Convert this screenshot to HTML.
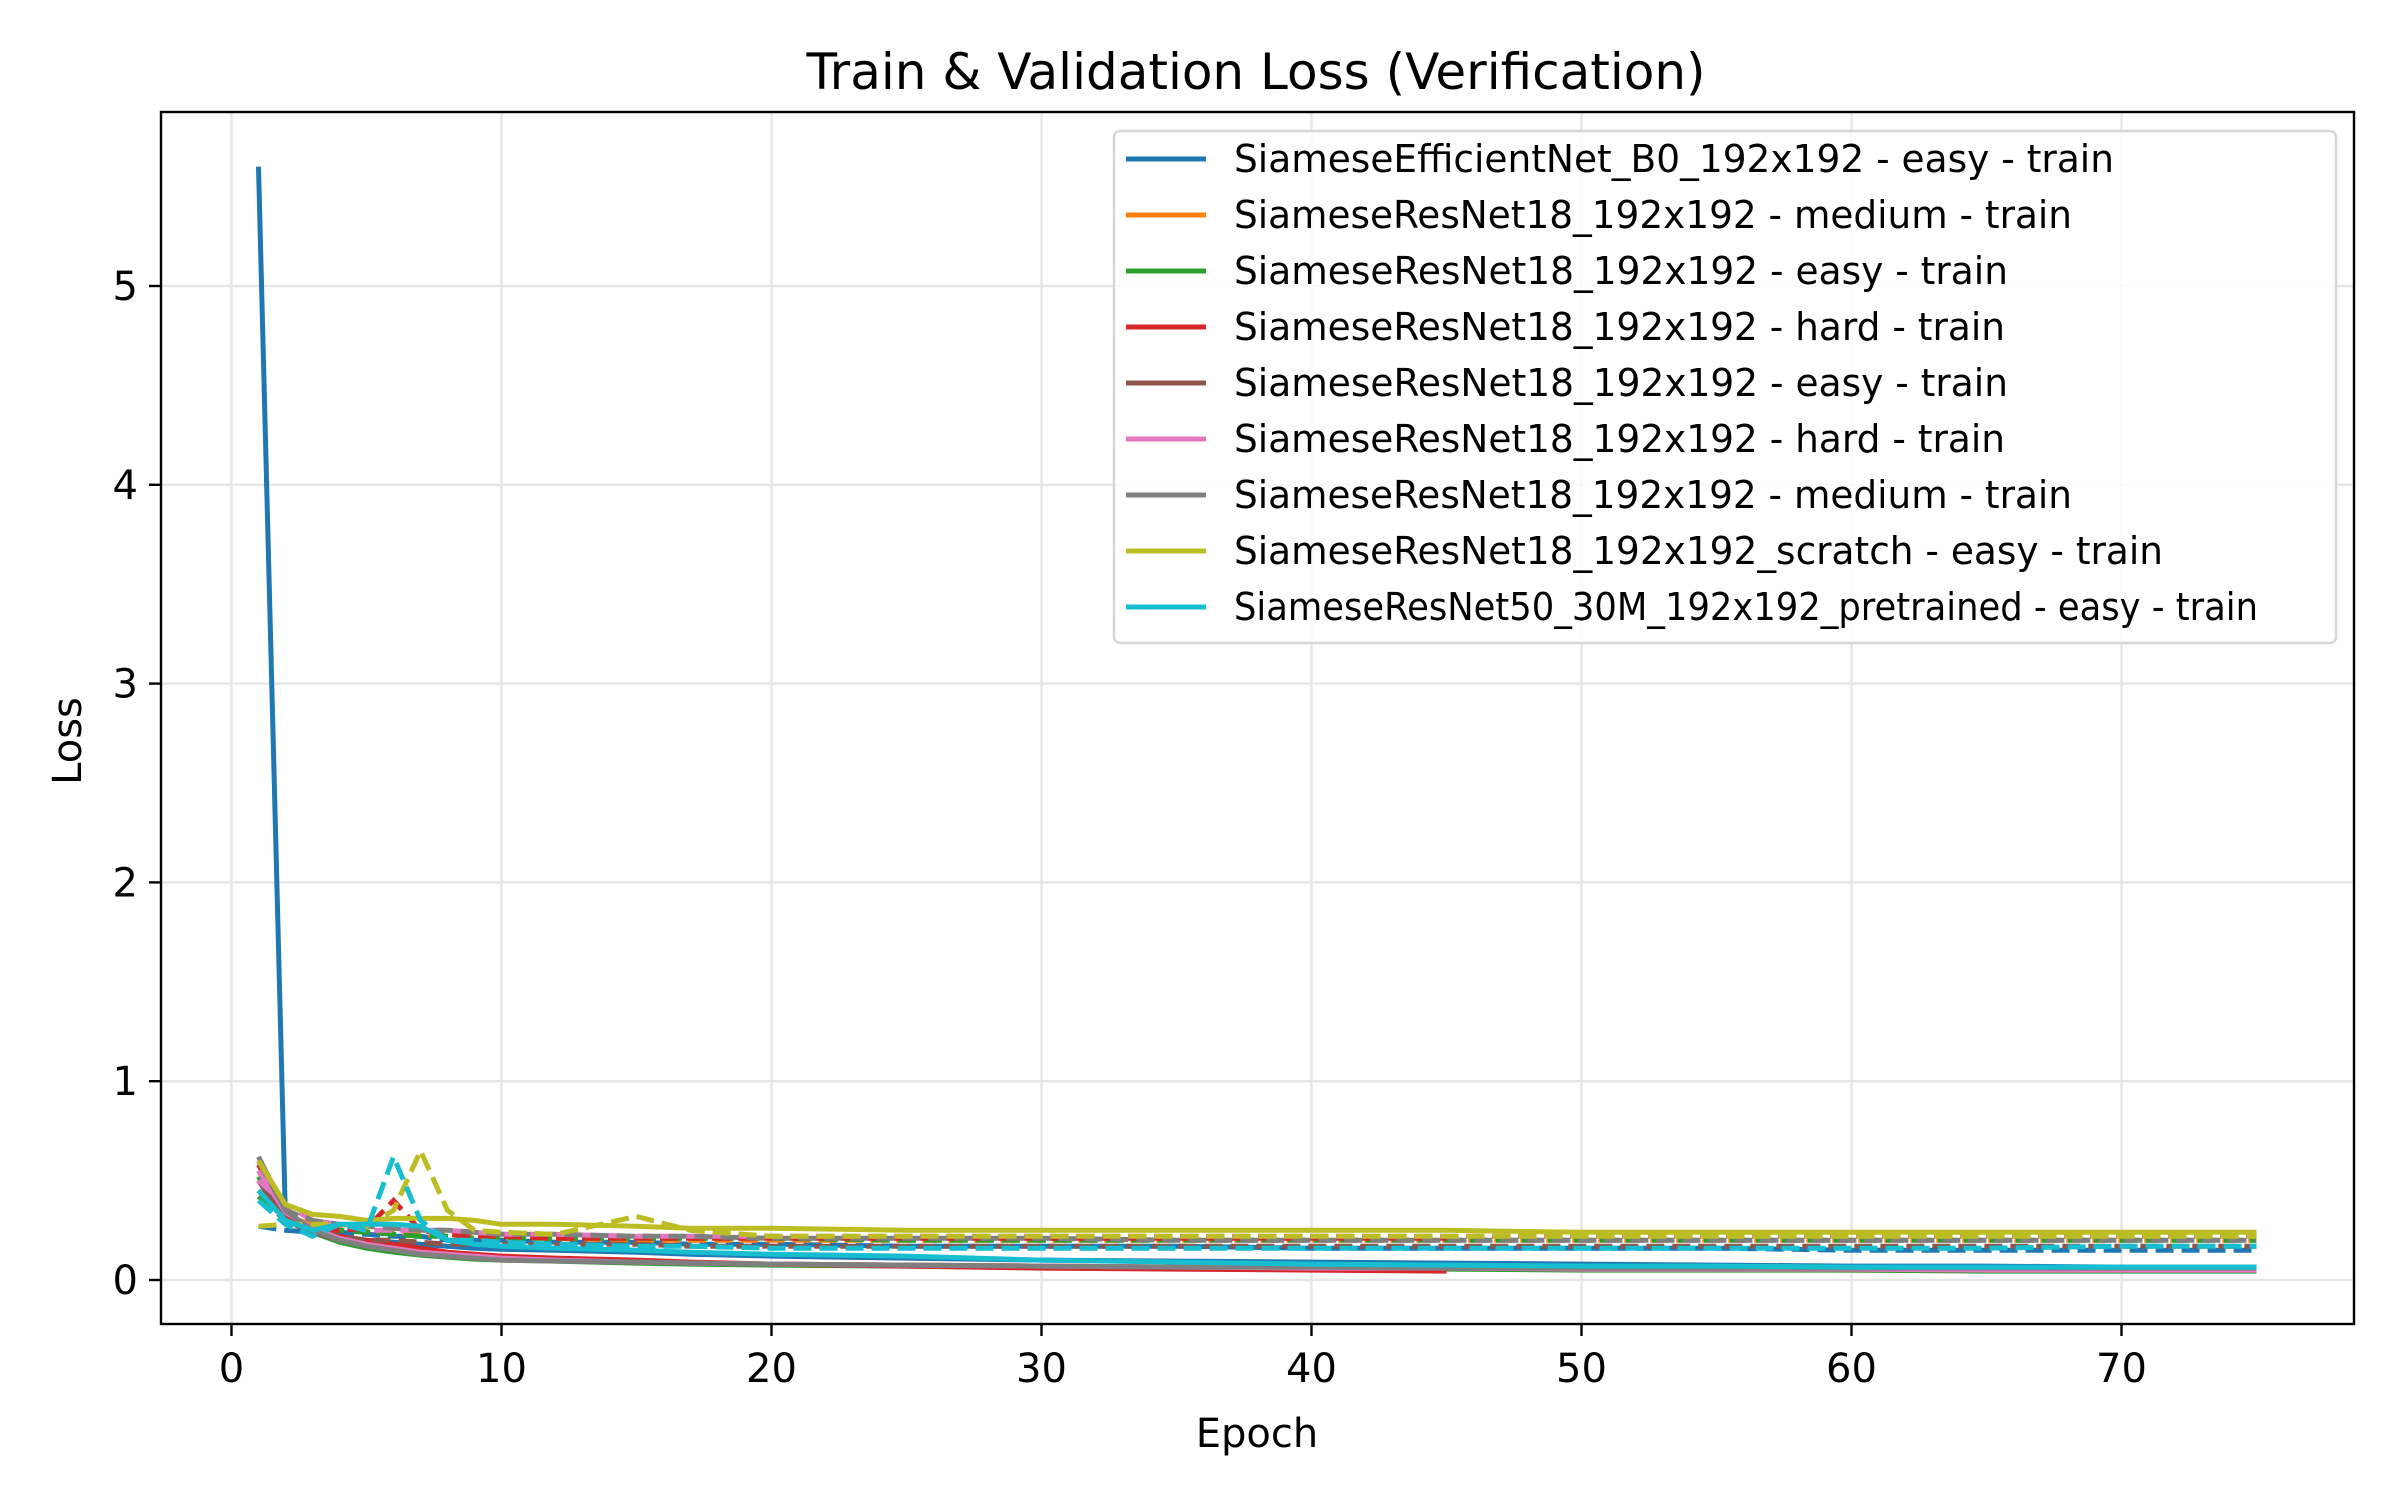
<!DOCTYPE html>
<html><head><meta charset="utf-8"><style>
html,body{margin:0;padding:0;background:#fff;}
svg{display:block;font-family:"DejaVu Sans","Liberation Sans",sans-serif;}
</style></head><body>
<svg id="chart" width="2400" height="1500" viewBox="0 0 2400 1500">
<rect width="2400" height="1500" fill="#fff"/>
<text x="1256" y="89" font-size="50" text-anchor="middle">Train &amp; Validation Loss (Verification)</text>
<g id="grid"></g>
<g id="series"></g>
<rect x="161" y="112" width="2193" height="1212" fill="none" stroke="#000" stroke-width="2.4"/>
<g id="ticks"></g>
<text x="1257" y="1447" font-size="40" text-anchor="middle">Epoch</text>
<text x="0" y="0" font-size="40" text-anchor="middle" transform="translate(81,741) rotate(-90)">Loss</text>
<g id="legend"></g>
</svg>
<script>
const xTicks=[0,10,20,30,40,50,60,70];
const yTicks=[0,1,2,3,4,5];
const colors=["#1f77b4","#ff7f0e","#2ca02c","#d62728","#8c564b","#e377c2","#7f7f7f","#bcbd22","#17becf"];
const labels=["SiameseEfficientNet_B0_192x192 - easy - train","SiameseResNet18_192x192 - medium - train","SiameseResNet18_192x192 - easy - train","SiameseResNet18_192x192 - hard - train","SiameseResNet18_192x192 - easy - train","SiameseResNet18_192x192 - hard - train","SiameseResNet18_192x192 - medium - train","SiameseResNet18_192x192_scratch - easy - train","SiameseResNet50_30M_192x192_pretrained - easy - train"];
const labelWidths=[880,838,774,771,774,771,838,929,1024];
const epochs=[1,2,3,4,5,6,7,8,9,10,12,15,17,20,25,30,35,40,45,50,55,60,65,70,75];
const epochsShort=[1,2,3,4,5,6,7,8,9,10,12,15,17,20,25,30,35,40,45];
const trainBlue=[5.6,0.3,0.25,0.22,0.2,0.19,0.18,0.17,0.16,0.155,0.15,0.14,0.13,0.12,0.11,0.1,0.095,0.09,0.085,0.08,0.075,0.07,0.07,0.065,0.065];
const valBlue=[0.27,0.25,0.24,0.24,0.23,0.22,0.22,0.2,0.2,0.2,0.19,0.19,0.18,0.18,0.17,0.17,0.17,0.16,0.16,0.16,0.16,0.15,0.15,0.15,0.15];
const trainOrange=[0.55,0.32,0.25,0.2,0.17,0.15,0.13,0.12,0.11,0.105,0.1,0.09,0.085,0.08,0.075,0.07,0.065,0.06,0.06,0.055,0.055,0.05,0.05,0.05,0.05];
const valOrange=[0.45,0.32,0.28,0.26,0.25,0.24,0.23,0.22,0.22,0.21,0.21,0.2,0.2,0.2,0.2,0.2,0.2,0.2,0.2,0.2,0.2,0.2,0.2,0.2,0.2];
const trainGreen=[0.52,0.3,0.24,0.19,0.16,0.14,0.125,0.115,0.105,0.1,0.095,0.085,0.08,0.075,0.07,0.065,0.06,0.055,0.055,0.05,0.05,0.05,0.045,0.045,0.045];
const valGreen=[0.42,0.3,0.26,0.25,0.24,0.23,0.22,0.22,0.21,0.21,0.21,0.21,0.21,0.21,0.2,0.2,0.2,0.2,0.2,0.2,0.2,0.2,0.2,0.2,0.2];
const trainRed=[0.58,0.33,0.26,0.22,0.2,0.18,0.16,0.14,0.13,0.12,0.11,0.1,0.09,0.08,0.07,0.06,0.055,0.05,0.045];
const valRed=[0.45,0.3,0.25,0.25,0.26,0.4,0.25,0.23,0.22,0.22,0.21,0.21,0.21,0.21,0.21,0.21,0.21,0.21,0.21];
const trainBrown=[0.5,0.3,0.24,0.2,0.17,0.15,0.135,0.12,0.11,0.105,0.1,0.09,0.085,0.08,0.075,0.07,0.065,0.06,0.06,0.055,0.055,0.055,0.05,0.05,0.05];
const valBrown=[0.45,0.3,0.25,0.22,0.2,0.2,0.19,0.18,0.18,0.18,0.18,0.18,0.17,0.17,0.17,0.17,0.17,0.17,0.17,0.17,0.17,0.17,0.17,0.17,0.17];
const trainPink=[0.55,0.34,0.26,0.21,0.18,0.16,0.14,0.13,0.12,0.11,0.1,0.09,0.085,0.08,0.075,0.07,0.065,0.06,0.06,0.055,0.055,0.055,0.05,0.05,0.05];
const valPink=[0.5,0.38,0.3,0.28,0.25,0.25,0.25,0.25,0.24,0.23,0.23,0.22,0.22,0.22,0.22,0.22,0.22,0.22,0.22,0.22,0.22,0.22,0.22,0.22,0.22];
const trainGray=[0.62,0.35,0.25,0.2,0.17,0.15,0.13,0.12,0.11,0.1,0.095,0.09,0.085,0.08,0.075,0.07,0.065,0.065,0.06,0.06,0.06,0.06,0.06,0.06,0.06];
const valGray=[0.6,0.35,0.3,0.28,0.27,0.26,0.25,0.25,0.24,0.23,0.23,0.22,0.22,0.21,0.21,0.21,0.2,0.2,0.2,0.2,0.2,0.2,0.2,0.2,0.2];
const trainOlive=[0.6,0.38,0.33,0.32,0.3,0.31,0.31,0.31,0.3,0.28,0.28,0.27,0.26,0.26,0.25,0.25,0.25,0.25,0.25,0.24,0.24,0.24,0.24,0.24,0.24];
const valOlive=[0.27,0.28,0.28,0.28,0.27,0.35,0.65,0.35,0.25,0.24,0.23,0.32,0.25,0.22,0.22,0.22,0.22,0.22,0.22,0.22,0.22,0.22,0.22,0.22,0.22];
const trainCyan=[0.45,0.3,0.25,0.28,0.28,0.28,0.27,0.2,0.18,0.17,0.16,0.15,0.14,0.13,0.12,0.1,0.09,0.08,0.075,0.07,0.07,0.065,0.065,0.065,0.065];
const valCyan=[0.4,0.28,0.22,0.28,0.25,0.62,0.3,0.2,0.2,0.19,0.18,0.17,0.17,0.16,0.16,0.16,0.16,0.16,0.16,0.16,0.16,0.16,0.16,0.17,0.17];

const NS="http://www.w3.org/2000/svg";
function xS(v){return 231.5+v*27.0;}
function yS(v){return 1280-v*198.8;}
function mk(tag,attrs,parent){const e=document.createElementNS(NS,tag);for(const k in attrs)e.setAttribute(k,attrs[k]);parent.appendChild(e);return e;}
const grid=document.getElementById('grid'),ticks=document.getElementById('ticks'),ser=document.getElementById('series'),leg=document.getElementById('legend');
xTicks.forEach(t=>{
  const g=mk('line',{x1:xS(t),x2:xS(t),y1:112,y2:1324,stroke:'#e6e6e6','stroke-width':2.4},grid);
  
  
  const tk=mk('line',{x1:xS(t),x2:xS(t),y1:1324,y2:1336,stroke:'#000','stroke-width':2.4},ticks);
  
  
  const tx=mk('text',{x:xS(t),y:1382,'font-size':40,'text-anchor':'middle'},ticks);
  tx.textContent=t;
  
  
});
yTicks.forEach(t=>{
  const g=mk('line',{x1:161,x2:2354,y1:yS(t),y2:yS(t),stroke:'#e6e6e6','stroke-width':2.4},grid);
  
  
  const tk=mk('line',{x1:149,x2:161,y1:yS(t),y2:yS(t),stroke:'#000','stroke-width':2.4},ticks);
  
  
  const tx=mk('text',{x:138,y:yS(t)+14,'font-size':40,'text-anchor':'end'},ticks);
  tx.textContent=t;
  
  
});
const trains=[trainBlue,trainOrange,trainGreen,trainRed,trainBrown,trainPink,trainGray,trainOlive,trainCyan];
const vals=[valBlue,valOrange,valGreen,valRed,valBrown,valPink,valGray,valOlive,valCyan];
function pts(xs,ys){return ys.map((v,i)=>xS(xs[i]).toFixed(1)+','+yS(v).toFixed(1)).join(' ');}
for(let i=0;i<9;i++){
  const xs=(i===3)?epochsShort:epochs;
  const a=mk('polyline',{points:pts(xs,trains[i]),fill:'none',stroke:colors[i],'stroke-width':5,'stroke-linejoin':'round'},ser);
  
  
  const b=mk('polyline',{points:pts(xs,vals[i]),fill:'none',stroke:colors[i],'stroke-width':5,'stroke-dasharray':'18,8'},ser);
  
  
}
const box=mk('rect',{x:1114,y:131,width:1222,height:512,rx:6,fill:'#fff','fill-opacity':0.8,stroke:'#d6d6d6','stroke-width':2.4},leg);


for(let i=0;i<9;i++){
  const y=159+i*56;
  const l=mk('line',{x1:1126,x2:1206,y1:y,y2:y,stroke:colors[i],'stroke-width':5},leg);
  
  
  const t=mk('text',{x:1234,y:y+13,'font-size':38,textLength:labelWidths[i],lengthAdjust:'spacingAndGlyphs'},leg);
  t.textContent=labels[i];
  
  
}
</script>
</body></html>
